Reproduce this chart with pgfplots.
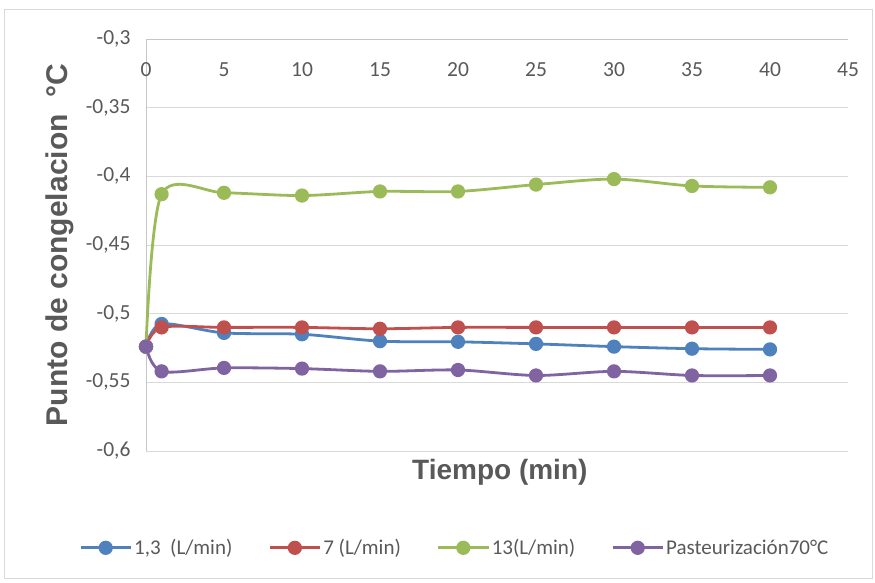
\documentclass[border=0pt]{standalone}
\usepackage{fontspec}
\setmainfont{Carlito}
\newfontfamily\arialf{Liberation Sans}
\usepackage{pgfplots}
\pgfplotsset{compat=1.18}
\definecolor{cblue}{HTML}{4F81BD}
\definecolor{cred}{HTML}{C0504D}
\definecolor{cgreen}{HTML}{9BBB59}
\definecolor{cpurple}{HTML}{8064A2}
\definecolor{ctxt}{HTML}{595959}
\begin{document}
\begin{tikzpicture}
\path[use as bounding box] (0pt,0pt) rectangle (875pt,582pt);
\draw[gray!30, line width=1pt] (4pt,4pt) rectangle (872pt,572pt);
\begin{axis}[
  at={(146pt,131pt)}, anchor=south west,
  scale only axis, width=702pt, height=412pt,
  xmin=0, xmax=45, ymin=-0.6, ymax=-0.3,
  axis x line*=top, axis y line*=left,
  axis line style={draw=gray!45, line width=0.8pt},
  xtick={0,5,10,15,20,25,30,35,40,45},
  xticklabels={0,5,10,15,20,25,30,35,40,45},
  ytick={-0.6,-0.55,-0.5,-0.45,-0.4,-0.35,-0.3},
  yticklabels={{-0,6},{-0,55},{-0,5},{-0,45},{-0,4},{-0,35},{-0,3}},
  major tick length=0pt,
  ymajorgrids, major grid style={draw=gray!30, line width=0.8pt},
  tick label style={font=\fontsize{21.5}{25}\selectfont, text=ctxt},
  xticklabel style={anchor=north, yshift=-20pt},
  yticklabel style={xshift=-12pt},
  xlabel={Tiempo (min)},
  ylabel={Punto de congelacion\ \ °C},
  xlabel style={font=\arialf\bfseries\fontsize{28}{32}\selectfont, text=ctxt, at={(axis description cs:0.504,-0.051)}, anchor=center},
  ylabel style={font=\arialf\bfseries\fontsize{30}{34}\selectfont, text=ctxt, at={(axis description cs:-0.1225,0.5)}, anchor=center},
  clip=false,
  every axis plot/.append style={smooth, tension=0.5, line width=2.8pt, mark=*, mark size=5.7pt},
  legend columns=4,
  legend image code/.code={\draw[mark repeat=2,mark phase=2,#1] plot coordinates {(0pt,0pt) (25pt,0pt) (50pt,0pt)};},
  legend style={at={(axis description cs:0.44,-0.235)}, anchor=center, draw=none, fill=none,
    font=\fontsize{21}{25}\selectfont, text=ctxt,
    nodes={inner sep=2pt},
    /tikz/every even column/.append style={column sep=34pt}},
]
\addplot[color=cblue, mark options={fill=cblue}] coordinates {
(0,-0.524) (1,-0.5075) (5,-0.514) (10,-0.515) (15,-0.520) (20,-0.5205) (25,-0.522) (30,-0.524) (35,-0.5255) (40,-0.526)};
\addlegendentry{1,3\ \ (L/min)}
\addplot[color=cred, mark options={fill=cred}] coordinates {
(0,-0.524) (1,-0.510) (5,-0.510) (10,-0.510) (15,-0.511) (20,-0.510) (25,-0.510) (30,-0.510) (35,-0.510) (40,-0.510)};
\addlegendentry{7 (L/min)}
\addplot[color=cgreen, mark options={fill=cgreen}] coordinates {
(0,-0.524) (1,-0.413) (5,-0.412) (10,-0.414) (15,-0.411) (20,-0.411) (25,-0.406) (30,-0.402) (35,-0.407) (40,-0.408)};
\addlegendentry{13(L/min)}
\addplot[color=cpurple, mark options={fill=cpurple}] coordinates {
(0,-0.524) (1,-0.542) (5,-0.5395) (10,-0.540) (15,-0.542) (20,-0.541) (25,-0.545) (30,-0.542) (35,-0.545) (40,-0.545)};
\addlegendentry{Pasteurización70°C}
\end{axis}
\end{tikzpicture}
\end{document}
